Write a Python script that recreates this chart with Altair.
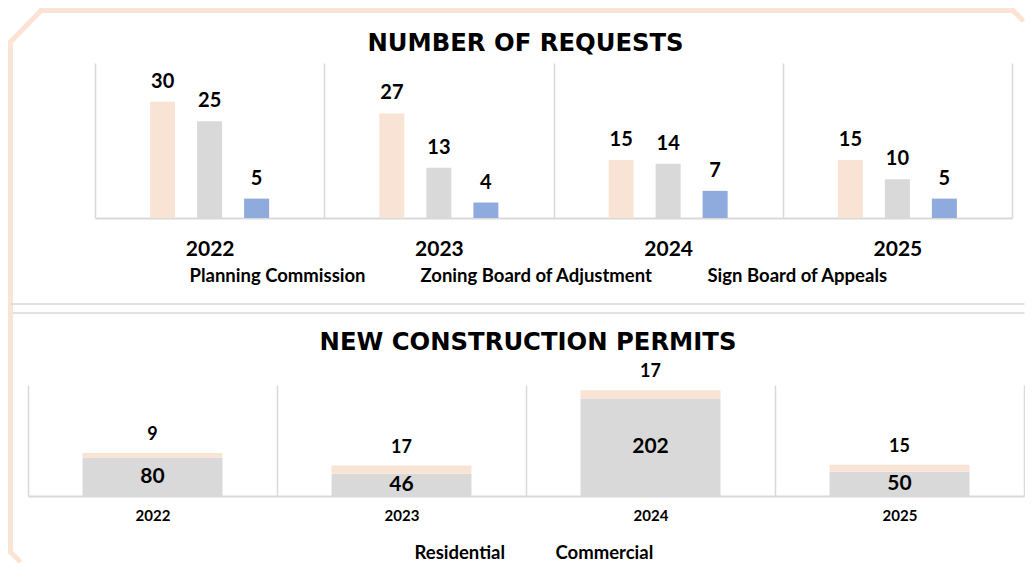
import altair as alt
import pandas as pd

# ---------------- data ----------------
years = ["2022", "2023", "2024", "2025"]
request_series = ["Planning Commission", "Zoning Board of Adjustment", "Sign Board of Appeals"]
planning_commission = [30, 27, 15, 15]
zoning_board = [25, 13, 14, 10]
sign_board = [5, 4, 7, 5]

permit_types = ["Residential", "Commercial"]
residential = [80, 46, 202, 50]
commercial = [9, 17, 17, 15]

title_requests = "NUMBER OF REQUESTS"
title_permits = "NEW CONSTRUCTION PERMITS"

# ---------------- styles ----------------
ORANGE = "#F9E3D5"
GRAY = "#D9D9D9"
BLUE = "#8FAADC"
FRAME = "#FBE3D5"
LINE = "#D9D9D9"
FONT = "Lato"
TITLE_FONT = "DejaVu Sans"
W = 996
H1 = 155
H2 = 111

req_df = pd.DataFrame({
    "year": years * 3,
    "series": [s for s in request_series for _ in years],
    "value": planning_commission + zoning_board + sign_board,
})
perm_df = pd.DataFrame({
    "year": years * 2,
    "type": [t for t in permit_types for _ in years],
    "value": residential + commercial,
    "ord": [0] * len(years) + [1] * len(years),
})
lab_df = pd.DataFrame({"year": years, "res": residential, "com": commercial})
one = pd.DataFrame({"k": [0]})


def seg(x1, y1, x2, y2, color, width):
    return alt.Chart(one).mark_rule(color=color, strokeWidth=width, strokeCap="round").encode(
        x=alt.value(x1), y=alt.value(y1), x2=alt.value(x2), y2=alt.value(y2)
    )


def heading(text, x, y):
    return alt.Chart(one).mark_text(
        text=text, font=TITLE_FONT, fontSize=24.3, fontWeight="bold", color="black",
        align="center", baseline="middle"
    ).encode(x=alt.value(x), y=alt.value(y))


def x_axis(size, pad):
    return alt.Axis(
        title=None, labelAngle=0, grid=True, gridColor=LINE, gridWidth=1.5,
        tickBand="extent", ticks=False, tickSize=0, domainColor=LINE, domainWidth=2,
        labelFont=FONT, labelFontSize=size, labelFontWeight="bold", labelColor="black",
        labelPadding=pad,
    )


def legend(x, y, gap):
    return alt.Legend(
        orient="none", legendX=x, legendY=y, direction="horizontal", title=None,
        symbolOpacity=0, symbolSize=1, symbolStrokeWidth=0, labelOffset=0,
        columnPadding=gap, labelFont=FONT, labelFontSize=18.5, labelFontWeight="bold",
        labelColor="black", labelLimit=500, padding=0,
    )


# ---------------- top chart ----------------
x_top = alt.X("year:N", sort=years,
              scale=alt.Scale(domain=years, range=[67, 984], paddingInner=0, paddingOuter=0),
              axis=x_axis(21, 20))
xoff = alt.XOffset("series:N", sort=request_series,
                   scale=alt.Scale(domain=request_series, paddingInner=0.122, paddingOuter=1))
y_top = alt.Y("value:Q", scale=alt.Scale(domain=[0, 40]), axis=None)

bars_top = alt.Chart(req_df).mark_bar(width=25).encode(
    x=x_top, xOffset=xoff, y=y_top,
    color=alt.Color("series:N", sort=request_series,
                    scale=alt.Scale(domain=request_series, range=[ORANGE, GRAY, BLUE]),
                    legend=legend(143, 204, 36)),
)
labels_top = alt.Chart(req_df).mark_text(
    dy=-20, baseline="middle", font=FONT, fontSize=20, fontWeight="bold", color="black"
).encode(x=x_top, xOffset=xoff, y=y_top, text="value:Q")

top = alt.layer(
    seg(13, -52.5, 985, -52.5, FRAME, 5),
    seg(-17.5, -21, 13, -52.5, FRAME, 5),
    seg(985, -52.5, 994, -43.5, FRAME, 5),
    seg(-17.5, -21, -17.5, 245, FRAME, 5),
    seg(-16, 241, 996, 241, LINE, 1.5),
    bars_top, labels_top,
    heading(title_requests, 497.5, -19),
).properties(width=W, height=H1)

# ---------------- bottom chart ----------------
x_bot = alt.X("year:N", sort=years,
              scale=alt.Scale(domain=years, paddingInner=0, paddingOuter=0),
              axis=x_axis(15, 12))
y_scale_bot = alt.Scale(domain=[0, 230])

bars_bot = alt.Chart(perm_df).mark_bar(width=alt.RelativeBandSize(0.562)).encode(
    x=x_bot,
    y=alt.Y("value:Q", stack="zero", scale=y_scale_bot, axis=None),
    color=alt.Color("type:N", sort=permit_types,
                    scale=alt.Scale(domain=permit_types, range=[GRAY, ORANGE]),
                    legend=legend(368, 158.5, 31)),
    order=alt.Order("ord:Q"),
)
res_labels = alt.Chart(lab_df).transform_calculate(mid="datum.res / 2").mark_text(
    baseline="middle", font=FONT, fontSize=21, fontWeight="bold", color="black"
).encode(x=x_bot, y=alt.Y("mid:Q", scale=y_scale_bot, axis=None), text="res:Q")
com_labels = alt.Chart(lab_df).transform_calculate(top="datum.res + datum.com").mark_text(
    dy=-18, baseline="middle", font=FONT, fontSize=18, fontWeight="bold", color="black"
).encode(x=x_bot, y=alt.Y("top:Q", scale=y_scale_bot, axis=None), text="com:Q")

bottom = alt.layer(
    seg(-19, -72, 996, -72, LINE, 1.5),
    seg(-17.5, -77, -17.5, 167, FRAME, 5),
    seg(-17.5, 167, -9, 175.5, FRAME, 5),
    bars_bot, res_labels, com_labels,
    heading(title_permits, 500, -42),
).properties(width=W, height=H2)

chart = alt.vconcat(top, bottom, spacing=167, bounds="flush").resolve_scale(
    color="independent"
).properties(padding=0).configure_view(stroke=None)

chart.save("out.html", embed_options={"renderer": "svg", "actions": False})
